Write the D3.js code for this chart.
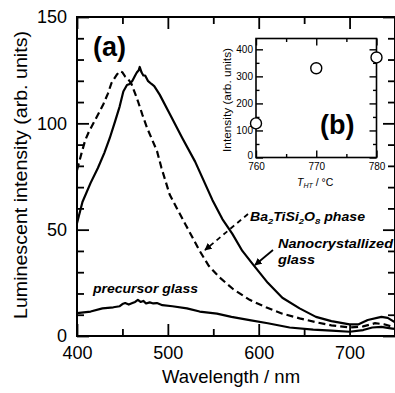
<!DOCTYPE html>
<html>
<head>
<meta charset="utf-8">
<script src="https://cdn.jsdelivr.net/npm/d3@7"></script>
<style>
body { margin: 0; background: #fff; }
svg { display: block; font-family: "Liberation Sans", Arial, Helvetica, sans-serif; }
</style>
</head>
<body>
<svg width="395" height="393"></svg>
<script>
// spectra: [wavelength (nm), intensity (arb. units)]
const nanoGlass = [
  [400, 53], [406, 63], [415, 72], [423, 79], [430, 86], [436, 93], [442, 101],
  [447, 108], [451, 115], [455, 118], [458, 118.5], [461, 120], [464, 122.5],
  [466, 124], [468, 125], [469, 126.5], [471, 124], [473, 122.5], [475, 122.5],
  [478, 120], [482, 118.5], [485, 117.5], [491, 113.5], [502, 104.5], [516, 93],
  [530, 82], [549, 64], [560, 55], [571, 48], [582, 40], [593, 34], [610, 25],
  [626, 18], [645, 13], [663, 9], [680, 7], [700, 5.5], [710, 5.5], [720, 7.5],
  [735, 9], [742, 8.5], [750, 6.5]
];
const baPhase = [
  [400, 78], [405, 86], [409, 92], [413, 96], [418, 100], [423, 104], [429, 109],
  [434, 114], [438, 119], [441, 121], [444, 123], [447, 124.5], [450, 124],
  [453, 122], [456, 121], [460, 118.5], [464, 114], [467, 110.5], [472, 104],
  [477, 98], [483, 92], [488, 87], [493, 79], [502, 66.5], [510, 60], [520, 52],
  [535, 40], [545, 33], [557, 27.5], [572, 22], [590, 17], [608, 13.5],
  [626, 10.5], [645, 8.3], [663, 6.5], [680, 5], [700, 4], [715, 4.5],
  [728, 6], [738, 5.5], [750, 4]
];
const precursor = [
  [400, 10.8], [415, 11.5], [428, 13], [440, 13.5], [447, 14], [450, 15],
  [453, 15.5], [457, 14.8], [461, 15.5], [464, 16], [467, 17], [470, 16],
  [473, 16.5], [476, 15.3], [480, 15.8], [484, 15.3], [488, 15.5], [494, 14.5],
  [505, 14], [521, 13], [535, 11.5], [554, 10.5], [570, 9], [590, 7.5],
  [610, 6], [634, 4], [660, 3], [680, 2.5], [700, 2], [715, 2.8], [725, 4],
  [735, 4.3], [747, 3.5], [750, 3.3]
];

// inset (b): intensity vs heat-treatment temperature
const heatTemps = [760, 770, 780];
const heatIntensity = [126, 330, 370];

// tick values
const xMajor = [400, 500, 600, 700];
const xMinor = [450, 550, 650, 750];
const yMajor = [0, 50, 100, 150];
const yMinor = [10, 20, 30, 40, 60, 70, 80, 90, 110, 120, 130, 140];
const insetXMajor = [760, 770, 780];
const insetXMinor = [765, 775];
const insetYMajor = [0, 100, 200, 300, 400];
const insetYMinor = [50, 150, 250, 350];

const svg = d3.select("svg");

const x = d3.scaleLinear().domain([400, 750]).range([77, 395]);
const y = d3.scaleLinear().domain([0, 150]).range([336, 17]);

function styleAxis(g, size) {
  g.select(".domain").remove();
  g.selectAll("line").attr("stroke", "#000").attr("stroke-width", 1.8);
  g.selectAll("text").attr("fill", "#000");
  g.attr("font-size", size).attr("font-family", null);
}

// main axes: ticks point inward on all four sides
const [x0, x1] = x.range(), [yb, yt] = y.range();

svg.append("g").attr("transform", `translate(${x0},0)`)
  .call(d3.axisLeft(y).tickValues(yMajor).tickSize(-12).tickPadding(10))
  .call(styleAxis, 18);
svg.append("g").attr("transform", `translate(${x0},0)`)
  .call(d3.axisLeft(y).tickValues(yMinor).tickSize(-7).tickFormat(""))
  .call(styleAxis, 18);
svg.append("g").attr("transform", `translate(${x1},0)`)
  .call(d3.axisRight(y).tickValues(yMajor).tickSize(-12).tickFormat(""))
  .call(styleAxis, 18);
svg.append("g").attr("transform", `translate(${x1},0)`)
  .call(d3.axisRight(y).tickValues(yMinor).tickSize(-7).tickFormat(""))
  .call(styleAxis, 18);
svg.append("g").attr("transform", `translate(0,${yb})`)
  .call(d3.axisBottom(x).tickValues(xMajor).tickSize(-12).tickPadding(10))
  .call(styleAxis, 18);
svg.append("g").attr("transform", `translate(0,${yb})`)
  .call(d3.axisBottom(x).tickValues(xMinor).tickSize(-7).tickFormat(""))
  .call(styleAxis, 18);
svg.append("g").attr("transform", `translate(0,${yt})`)
  .call(d3.axisTop(x).tickValues(xMajor).tickSize(-12).tickFormat(""))
  .call(styleAxis, 18);
svg.append("g").attr("transform", `translate(0,${yt})`)
  .call(d3.axisTop(x).tickValues(xMinor).tickSize(-7).tickFormat(""))
  .call(styleAxis, 18);

svg.append("rect")
  .attr("x", x0).attr("y", yt)
  .attr("width", x1 - x0).attr("height", yb - yt)
  .attr("fill", "none").attr("stroke", "#000").attr("stroke-width", 2);

// spectra
const line = d3.line().x(d => x(d[0])).y(d => y(d[1]));

svg.append("path").datum(nanoGlass)
  .attr("d", line).attr("fill", "none")
  .attr("stroke", "#000").attr("stroke-width", 2.2).attr("stroke-linejoin", "round");
svg.append("path").datum(baPhase)
  .attr("d", line).attr("fill", "none")
  .attr("stroke", "#000").attr("stroke-width", 2.2).attr("stroke-dasharray", "7,4");
svg.append("path").datum(precursor)
  .attr("d", line).attr("fill", "none")
  .attr("stroke", "#000").attr("stroke-width", 2.2).attr("stroke-linejoin", "round");

// axis titles
svg.append("text")
  .attr("x", (x0 + x1) / 2 - 5).attr("y", 383)
  .attr("text-anchor", "middle").attr("font-size", 18.5)
  .text("Wavelength / nm");

svg.append("text")
  .attr("transform", "translate(27,175) rotate(-90)")
  .attr("text-anchor", "middle").attr("font-size", 18.5)
  .attr("textLength", 288).attr("lengthAdjust", "spacingAndGlyphs")
  .text("Luminescent intensity (arb. units)");

svg.append("text")
  .attr("x", 93).attr("y", 56)
  .attr("font-size", 27).attr("font-weight", "bold")
  .text("(a)");

// annotations
const defs = svg.append("defs");
defs.append("marker")
  .attr("id", "head").attr("viewBox", "0 0 10 10")
  .attr("refX", 9).attr("refY", 5)
  .attr("markerWidth", 4).attr("markerHeight", 4)
  .attr("markerUnits", "strokeWidth").attr("orient", "auto")
  .append("path").attr("d", "M0,0 L10,5 L0,10 Z").attr("fill", "#000");

svg.append("line")
  .attr("x1", 248).attr("y1", 214).attr("x2", 205).attr("y2", 250)
  .attr("stroke", "#000").attr("stroke-width", 1.8)
  .attr("stroke-dasharray", "5,4").attr("marker-end", "url(#head)");
svg.append("line")
  .attr("x1", 273).attr("y1", 250).attr("x2", 255).attr("y2", 265)
  .attr("stroke", "#000").attr("stroke-width", 1.8).attr("marker-end", "url(#head)");

const ba = svg.append("text")
  .attr("x", 250).attr("y", 221)
  .attr("font-size", 12).attr("font-weight", "bold").attr("font-style", "italic")
  .attr("textLength", 115).attr("lengthAdjust", "spacingAndGlyphs");
ba.append("tspan").text("Ba");
ba.append("tspan").attr("font-size", 8).attr("dy", 3).text("2");
ba.append("tspan").attr("dy", -3).text("TiSi");
ba.append("tspan").attr("font-size", 8).attr("dy", 3).text("2");
ba.append("tspan").attr("dy", -3).text("O");
ba.append("tspan").attr("font-size", 8).attr("dy", 3).text("8");
ba.append("tspan").attr("dy", -3).text(" phase");

svg.append("text")
  .attr("x", 278).attr("y", 248)
  .attr("font-size", 12).attr("font-weight", "bold").attr("font-style", "italic")
  .attr("textLength", 115).attr("lengthAdjust", "spacingAndGlyphs")
  .text("Nanocrystallized");
svg.append("text")
  .attr("x", 278).attr("y", 264)
  .attr("font-size", 12).attr("font-weight", "bold").attr("font-style", "italic")
  .attr("textLength", 37).attr("lengthAdjust", "spacingAndGlyphs")
  .text("glass");
svg.append("text")
  .attr("x", 93).attr("y", 293)
  .attr("font-size", 12).attr("font-weight", "bold").attr("font-style", "italic")
  .attr("textLength", 105).attr("lengthAdjust", "spacingAndGlyphs")
  .text("precursor glass");

// inset (b)
const ix = d3.scaleLinear().domain([760, 780]).range([256, 376.5]);
const iy = d3.scaleLinear().domain([0, 440]).range([157.5, 38.5]);
const [ix0, ix1] = ix.range(), [iyb, iyt] = iy.range();

const inset = svg.append("g");
inset.append("rect")
  .attr("x", ix0).attr("y", iyt)
  .attr("width", ix1 - ix0).attr("height", iyb - iyt)
  .attr("fill", "#fff");

inset.append("g").attr("transform", `translate(${ix0},0)`)
  .call(d3.axisLeft(iy).tickValues(insetYMajor).tickSize(-7).tickPadding(3))
  .call(styleAxis, 10)
  .selectAll(".tick text").filter(d => d === 0).attr("dy", "0.05em");
inset.append("g").attr("transform", `translate(${ix0},0)`)
  .call(d3.axisLeft(iy).tickValues(insetYMinor).tickSize(-3.5).tickFormat(""))
  .call(styleAxis, 10);
inset.append("g").attr("transform", `translate(${ix1},0)`)
  .call(d3.axisRight(iy).tickValues(insetYMajor).tickSize(-7).tickFormat(""))
  .call(styleAxis, 10);
inset.append("g").attr("transform", `translate(${ix1},0)`)
  .call(d3.axisRight(iy).tickValues(insetYMinor).tickSize(-3.5).tickFormat(""))
  .call(styleAxis, 10);
inset.append("g").attr("transform", `translate(0,${iyb})`)
  .call(d3.axisBottom(ix).tickValues(insetXMajor).tickSize(-7).tickPadding(5))
  .call(styleAxis, 10);
inset.append("g").attr("transform", `translate(0,${iyb})`)
  .call(d3.axisBottom(ix).tickValues(insetXMinor).tickSize(-3.5).tickFormat(""))
  .call(styleAxis, 10);
inset.append("g").attr("transform", `translate(0,${iyt})`)
  .call(d3.axisTop(ix).tickValues(insetXMajor).tickSize(-7).tickFormat(""))
  .call(styleAxis, 10);
inset.append("g").attr("transform", `translate(0,${iyt})`)
  .call(d3.axisTop(ix).tickValues(insetXMinor).tickSize(-3.5).tickFormat(""))
  .call(styleAxis, 10);
inset.selectAll("line").attr("stroke-width", 1.4);

inset.append("rect")
  .attr("x", ix0).attr("y", iyt)
  .attr("width", ix1 - ix0).attr("height", iyb - iyt)
  .attr("fill", "none").attr("stroke", "#000").attr("stroke-width", 1.6);

inset.selectAll("circle")
  .data(heatTemps)
  .join("circle")
  .attr("cx", d => ix(d))
  .attr("cy", (d, i) => iy(heatIntensity[i]))
  .attr("r", 5.5)
  .attr("fill", "#fff").attr("stroke", "#000").attr("stroke-width", 1.4);

inset.append("text")
  .attr("transform", "translate(231,100) rotate(-90)")
  .attr("text-anchor", "middle").attr("font-size", 10)
  .attr("textLength", 104).attr("lengthAdjust", "spacingAndGlyphs")
  .text("Intensity (arb. units)");

const tht = inset.append("text")
  .attr("x", 297).attr("y", 186).attr("font-size", 10.5);
tht.append("tspan").attr("font-style", "italic").text("T");
tht.append("tspan").attr("font-style", "italic").attr("font-size", 7).attr("dy", 2).text("HT");
tht.append("tspan").attr("dy", -2).text(" / \u00b0C");

inset.append("text")
  .attr("x", 320).attr("y", 134)
  .attr("font-size", 27).attr("font-weight", "bold")
  .text("(b)");
</script>
</body>
</html>
